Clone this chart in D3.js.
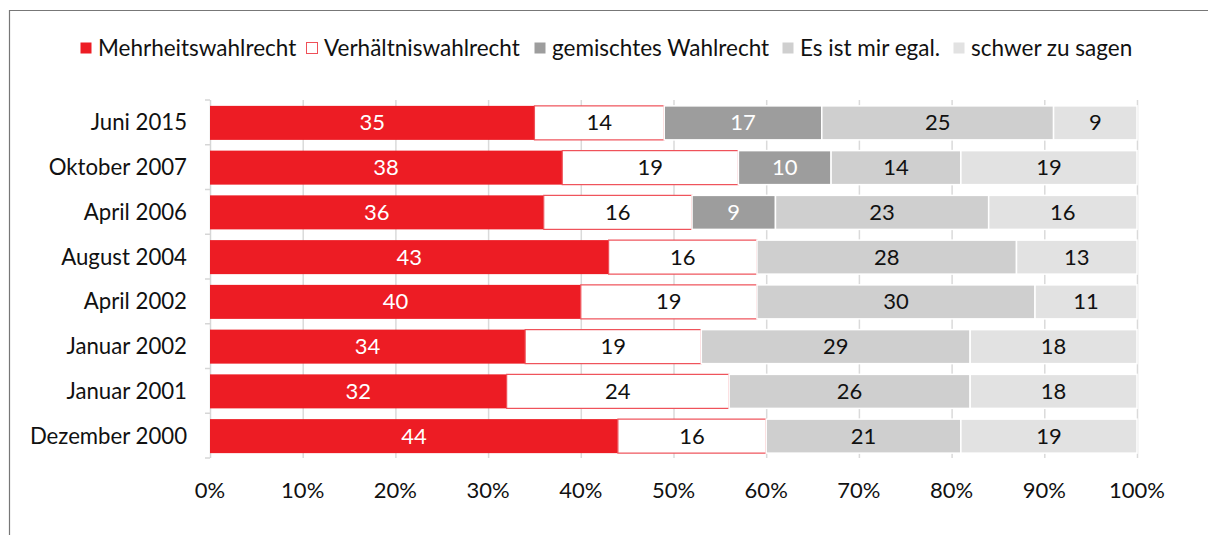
<!DOCTYPE html>
<html><head><meta charset="utf-8">
<script src="https://cdn.jsdelivr.net/npm/d3@7"></script>
<style>
body{margin:0;background:#fff;}
svg{display:block;font-family:"Lato","Open Sans",sans-serif;}
</style></head>
<body><svg id="c" width="1208" height="535"></svg>
<script>
const categories = ["Juni 2015","Oktober 2007","April 2006","August 2004","April 2002","Januar 2002","Januar 2001","Dezember 2000"];
const seriesNames = ["Mehrheitswahlrecht","Verhältniswahlrecht","gemischtes Wahlrecht","Es ist mir egal.","schwer zu sagen"];
const mehrheit   = [35,38,36,43,40,34,32,44];
const verhaeltnis= [14,19,16,16,19,19,24,16];
const gemischt   = [17,10,9,0,0,0,0,0];
const egal       = [25,14,23,28,30,29,26,21];
const schwer     = [9,19,16,13,11,18,18,19];
const xTicks = [0,10,20,30,40,50,60,70,80,90,100];

const fills = ["#ED1C24","#ffffff","#9d9d9d","#cfcfcf","#e2e2e2"];
const strokes = ["none","#ef5058","#ffffff","#ffffff","#ffffff"];
const textCols = ["#ffffff","#111111","#ffffff","#111111","#111111"];

const svg = d3.select("#c");
svg.append("path").attr("d","M9.5,535 V10.5 H1208").attr("fill","none").attr("stroke","#777").attr("stroke-width",1.2);

const rows = categories.map((c,i)=>({cat:c, vals:[mehrheit[i],verhaeltnis[i],gemischt[i],egal[i],schwer[i]]}));
const stack = d3.stack().keys([0,1,2,3,4]).value((d,k)=>d.vals[k]);
const series = stack(rows);

const x = d3.scaleLinear().domain([0,100]).range([210,1137]);
const y = d3.scaleBand().domain(categories).range([100,458]).paddingInner(0.24).paddingOuter(0.12);

svg.append("g").selectAll("line").data(xTicks.slice(1)).join("line")
  .attr("x1",d=>x(d)+0.5).attr("x2",d=>x(d)+0.5).attr("y1",100).attr("y2",458)
  .attr("stroke","#dadada").attr("stroke-width",1.5);

const band = (458-100)/categories.length;
svg.append("line").attr("x1",210.5).attr("x2",210.5).attr("y1",100).attr("y2",458).attr("stroke","#d6d6d6").attr("stroke-width",1.5);
svg.append("g").selectAll("line").data(d3.range(categories.length+1)).join("line")
  .attr("x1",205).attr("x2",210).attr("y1",d=>100+d*band).attr("y2",d=>100+d*band)
  .attr("stroke","#d6d6d6").attr("stroke-width",1.5);

const g = svg.append("g");
series.forEach((s,k)=>{
  const grp = g.append("g");
  const segs = s.filter(d=>d[1]-d[0]>0);
  grp.selectAll("rect").data(segs).join("rect")
    .attr("x",d=>x(d[0])).attr("width",d=>x(d[1])-x(d[0]))
    .attr("y",d=>y(d.data.cat)+0.5).attr("height",y.bandwidth())
    .attr("fill",fills[k]).attr("stroke",strokes[k]).attr("stroke-width",k===1?1.2:1.5);
  grp.selectAll("text").data(segs).join("text")
    .attr("x",d=>(x(d[0])+x(d[1]))/2).attr("y",d=>y(d.data.cat)+y.bandwidth()/2+8)
    .attr("text-anchor","middle").attr("font-size",22).attr("fill",textCols[k])
    .text(d=>d[1]-d[0]);
});

svg.append("g").selectAll("text").data(categories).join("text")
  .attr("x",187).attr("y",d=>y(d)+y.bandwidth()/2+8).attr("text-anchor","end")
  .attr("font-size",22.2).attr("fill","#111").text(d=>d);

svg.append("g").selectAll("text").data(xTicks).join("text")
  .attr("x",d=>x(d)).attr("y",498).attr("text-anchor","middle")
  .attr("font-size",22).attr("fill","#111").text(d=>d+"%");

const legX = [80,306,534,782,953];
const lg = svg.append("g");
seriesNames.forEach((n,k)=>{
  lg.append("rect").attr("x",legX[k]+0.5).attr("y",42.5).attr("width",11).attr("height",11)
    .attr("fill",fills[k]).attr("stroke",k===1?"#ef5058":"none");
  lg.append("text").attr("x",legX[k]+18).attr("y",56).attr("font-size",22.5).attr("fill","#111").text(n);
});
</script></body></html>
